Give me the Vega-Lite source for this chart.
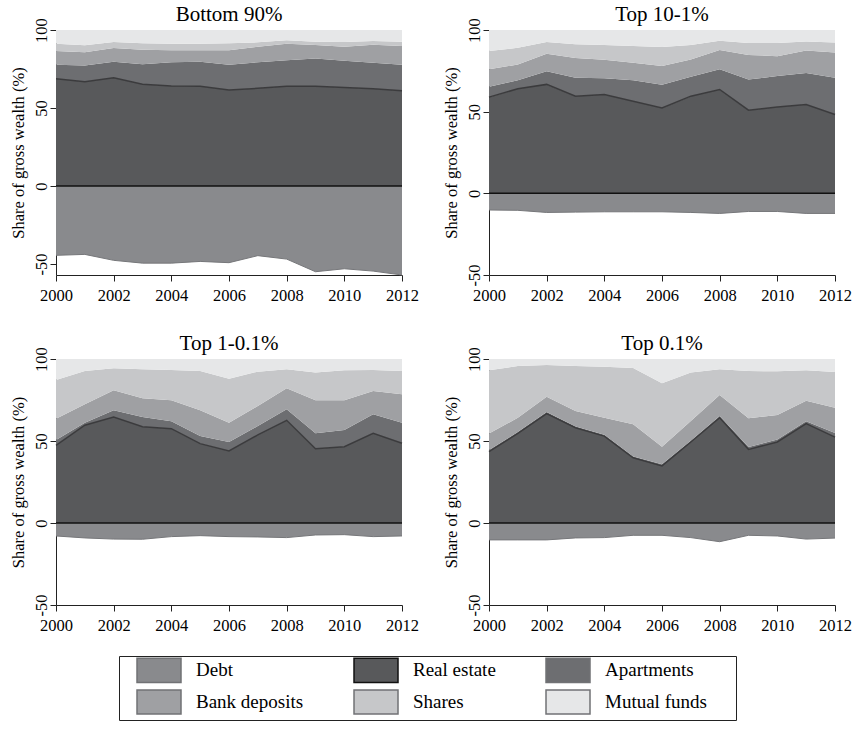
{
  "$schema": "https://vega.github.io/schema/vega-lite/v6.json",
  "background": "white",
  "padding": {"left": 10, "top": 3, "right": 5, "bottom": 5},
  "config": {
    "view": {"stroke": null},
    "font": "Liberation Serif",
    "title": {"font": "Liberation Serif", "fontSize": 21, "fontWeight": "normal", "color": "black", "offset": -7},
    "axis": {
      "domainColor": "#222", "tickColor": "#222", "tickSize": 6, "grid": false, "labelFlush": false,
      "labelFont": "Liberation Serif", "labelFontSize": 16.5, "labelColor": "black",
      "titleFont": "Liberation Serif", "titleFontSize": 16.5, "titleFontWeight": "normal", "titleColor": "black"
    },
    "legend": {
      "orient": "none", "legendX": 63, "legendY": 626,
      "columns": 3, "gridAlign": "each", "columnPadding": 34, "rowPadding": 0,
      "padding": 2, "labelFont": "Liberation Serif", "labelFontSize": 19, "labelColor": "black",
      "labelOffset": 51, "strokeColor": "#222", "fillColor": "white",
      "title": "\u2003", "titleOrient": "right", "titlePadding": 27, "titleFontSize": 19,
      "symbolType": "M0.364,-1.1L4.364,-1.1L4.364,1.1L0.364,1.1Z", "symbolSize": 484,
      "symbolStrokeWidth": 1.5, "symbolStrokeColor": "#707174", "symbolOpacity": 1
    }
  },
  "data": {"values": [
    {"g": "Bottom 90%", "year": 2000, "Debt": -44.4, "Real estate": 68.8, "Apartments": 9.0, "Bank deposits": 8.7, "Shares": 4.7, "Mutual funds": 8.8},
    {"g": "Bottom 90%", "year": 2001, "Debt": -43.8, "Real estate": 66.9, "Apartments": 10.4, "Bank deposits": 8.4, "Shares": 4.5, "Mutual funds": 9.8},
    {"g": "Bottom 90%", "year": 2002, "Debt": -47.6, "Real estate": 69.4, "Apartments": 10.3, "Bank deposits": 8.8, "Shares": 3.8, "Mutual funds": 7.7},
    {"g": "Bottom 90%", "year": 2003, "Debt": -49.4, "Real estate": 65.2, "Apartments": 12.8, "Bank deposits": 9.4, "Shares": 4.1, "Mutual funds": 8.5},
    {"g": "Bottom 90%", "year": 2004, "Debt": -49.4, "Real estate": 64.1, "Apartments": 15.2, "Bank deposits": 7.7, "Shares": 4.2, "Mutual funds": 8.8},
    {"g": "Bottom 90%", "year": 2005, "Debt": -48.3, "Real estate": 63.9, "Apartments": 15.8, "Bank deposits": 7.3, "Shares": 4.2, "Mutual funds": 8.8},
    {"g": "Bottom 90%", "year": 2006, "Debt": -49.1, "Real estate": 61.5, "Apartments": 16.3, "Bank deposits": 9.2, "Shares": 4.5, "Mutual funds": 8.5},
    {"g": "Bottom 90%", "year": 2007, "Debt": -44.6, "Real estate": 62.6, "Apartments": 16.7, "Bank deposits": 10.0, "Shares": 2.8, "Mutual funds": 7.9},
    {"g": "Bottom 90%", "year": 2008, "Debt": -46.8, "Real estate": 63.9, "Apartments": 16.7, "Bank deposits": 10.6, "Shares": 2.2, "Mutual funds": 6.6},
    {"g": "Bottom 90%", "year": 2009, "Debt": -54.9, "Real estate": 63.9, "Apartments": 17.9, "Bank deposits": 8.6, "Shares": 2.1, "Mutual funds": 7.5},
    {"g": "Bottom 90%", "year": 2010, "Debt": -53.0, "Real estate": 63.2, "Apartments": 17.1, "Bank deposits": 9.0, "Shares": 3.0, "Mutual funds": 7.7},
    {"g": "Bottom 90%", "year": 2011, "Debt": -54.5, "Real estate": 62.4, "Apartments": 16.6, "Bank deposits": 11.6, "Shares": 2.4, "Mutual funds": 7.0},
    {"g": "Bottom 90%", "year": 2012, "Debt": -57.0, "Real estate": 61.1, "Apartments": 16.7, "Bank deposits": 11.9, "Shares": 2.8, "Mutual funds": 7.5},

    {"g": "Top 10-1%", "year": 2000, "Debt": -10.2, "Real estate": 58.9, "Apartments": 6.3, "Bank deposits": 10.7, "Shares": 11.2, "Mutual funds": 12.9},
    {"g": "Top 10-1%", "year": 2001, "Debt": -10.4, "Real estate": 64.0, "Apartments": 5.3, "Bank deposits": 9.6, "Shares": 10.2, "Mutual funds": 10.9},
    {"g": "Top 10-1%", "year": 2002, "Debt": -11.7, "Real estate": 66.7, "Apartments": 8.1, "Bank deposits": 10.7, "Shares": 7.1, "Mutual funds": 7.4},
    {"g": "Top 10-1%", "year": 2003, "Debt": -11.5, "Real estate": 59.5, "Apartments": 11.3, "Bank deposits": 12.0, "Shares": 8.4, "Mutual funds": 8.8},
    {"g": "Top 10-1%", "year": 2004, "Debt": -11.3, "Real estate": 60.5, "Apartments": 9.9, "Bank deposits": 11.4, "Shares": 9.0, "Mutual funds": 9.2},
    {"g": "Top 10-1%", "year": 2005, "Debt": -11.3, "Real estate": 56.4, "Apartments": 12.9, "Bank deposits": 10.6, "Shares": 10.3, "Mutual funds": 9.8},
    {"g": "Top 10-1%", "year": 2006, "Debt": -11.3, "Real estate": 52.3, "Apartments": 14.2, "Bank deposits": 11.4, "Shares": 11.7, "Mutual funds": 10.4},
    {"g": "Top 10-1%", "year": 2007, "Debt": -11.7, "Real estate": 59.5, "Apartments": 11.9, "Bank deposits": 10.6, "Shares": 8.8, "Mutual funds": 9.2},
    {"g": "Top 10-1%", "year": 2008, "Debt": -12.3, "Real estate": 63.6, "Apartments": 12.3, "Bank deposits": 11.8, "Shares": 5.7, "Mutual funds": 6.6},
    {"g": "Top 10-1%", "year": 2009, "Debt": -11.1, "Real estate": 50.9, "Apartments": 18.8, "Bank deposits": 15.0, "Shares": 7.3, "Mutual funds": 8.0},
    {"g": "Top 10-1%", "year": 2010, "Debt": -11.1, "Real estate": 52.8, "Apartments": 19.0, "Bank deposits": 12.2, "Shares": 8.0, "Mutual funds": 8.0},
    {"g": "Top 10-1%", "year": 2011, "Debt": -12.3, "Real estate": 54.4, "Apartments": 19.2, "Bank deposits": 13.9, "Shares": 5.5, "Mutual funds": 7.0},
    {"g": "Top 10-1%", "year": 2012, "Debt": -12.3, "Real estate": 48.3, "Apartments": 22.5, "Bank deposits": 15.5, "Shares": 6.1, "Mutual funds": 7.6},

    {"g": "Top 1-0.1%", "year": 2000, "Debt": -7.9, "Real estate": 47.4, "Apartments": 3.2, "Bank deposits": 13.0, "Shares": 23.6, "Mutual funds": 12.8},
    {"g": "Top 1-0.1%", "year": 2001, "Debt": -9.1, "Real estate": 59.6, "Apartments": 1.6, "Bank deposits": 11.2, "Shares": 20.3, "Mutual funds": 7.3},
    {"g": "Top 1-0.1%", "year": 2002, "Debt": -9.8, "Real estate": 64.6, "Apartments": 4.1, "Bank deposits": 12.2, "Shares": 13.4, "Mutual funds": 5.7},
    {"g": "Top 1-0.1%", "year": 2003, "Debt": -9.9, "Real estate": 58.7, "Apartments": 5.9, "Bank deposits": 11.4, "Shares": 17.7, "Mutual funds": 6.3},
    {"g": "Top 1-0.1%", "year": 2004, "Debt": -8.3, "Real estate": 57.5, "Apartments": 4.5, "Bank deposits": 12.8, "Shares": 18.5, "Mutual funds": 6.7},
    {"g": "Top 1-0.1%", "year": 2005, "Debt": -7.7, "Real estate": 48.4, "Apartments": 4.6, "Bank deposits": 15.7, "Shares": 24.0, "Mutual funds": 7.3},
    {"g": "Top 1-0.1%", "year": 2006, "Debt": -8.3, "Real estate": 43.9, "Apartments": 5.5, "Bank deposits": 11.8, "Shares": 26.8, "Mutual funds": 12.0},
    {"g": "Top 1-0.1%", "year": 2007, "Debt": -8.5, "Real estate": 53.7, "Apartments": 5.4, "Bank deposits": 12.2, "Shares": 21.0, "Mutual funds": 7.7},
    {"g": "Top 1-0.1%", "year": 2008, "Debt": -8.9, "Real estate": 62.6, "Apartments": 6.7, "Bank deposits": 12.8, "Shares": 11.6, "Mutual funds": 6.3},
    {"g": "Top 1-0.1%", "year": 2009, "Debt": -7.3, "Real estate": 45.3, "Apartments": 9.4, "Bank deposits": 20.1, "Shares": 16.9, "Mutual funds": 8.3},
    {"g": "Top 1-0.1%", "year": 2010, "Debt": -7.1, "Real estate": 46.5, "Apartments": 10.2, "Bank deposits": 18.1, "Shares": 18.3, "Mutual funds": 6.9},
    {"g": "Top 1-0.1%", "year": 2011, "Debt": -8.3, "Real estate": 54.7, "Apartments": 11.6, "Bank deposits": 14.2, "Shares": 12.8, "Mutual funds": 6.7},
    {"g": "Top 1-0.1%", "year": 2012, "Debt": -7.9, "Real estate": 48.6, "Apartments": 12.6, "Bank deposits": 17.3, "Shares": 14.2, "Mutual funds": 7.3},

    {"g": "Top 0.1%", "year": 2000, "Debt": -10.3, "Real estate": 43.5, "Apartments": 1.0, "Bank deposits": 10.0, "Shares": 38.6, "Mutual funds": 6.9},
    {"g": "Top 0.1%", "year": 2001, "Debt": -10.3, "Real estate": 54.7, "Apartments": 0.8, "Bank deposits": 8.7, "Shares": 31.5, "Mutual funds": 4.3},
    {"g": "Top 0.1%", "year": 2002, "Debt": -10.3, "Real estate": 66.7, "Apartments": 1.0, "Bank deposits": 9.3, "Shares": 19.3, "Mutual funds": 3.7},
    {"g": "Top 0.1%", "year": 2003, "Debt": -9.1, "Real estate": 58.1, "Apartments": 0.8, "Bank deposits": 9.4, "Shares": 27.4, "Mutual funds": 4.3},
    {"g": "Top 0.1%", "year": 2004, "Debt": -8.9, "Real estate": 53.0, "Apartments": 0.8, "Bank deposits": 10.4, "Shares": 31.1, "Mutual funds": 4.7},
    {"g": "Top 0.1%", "year": 2005, "Debt": -7.5, "Real estate": 39.8, "Apartments": 0.8, "Bank deposits": 19.6, "Shares": 34.3, "Mutual funds": 5.5},
    {"g": "Top 0.1%", "year": 2006, "Debt": -7.5, "Real estate": 34.8, "Apartments": 1.0, "Bank deposits": 10.7, "Shares": 38.7, "Mutual funds": 14.8},
    {"g": "Top 0.1%", "year": 2007, "Debt": -8.9, "Real estate": 49.4, "Apartments": 0.8, "Bank deposits": 12.0, "Shares": 29.5, "Mutual funds": 8.3},
    {"g": "Top 0.1%", "year": 2008, "Debt": -11.4, "Real estate": 64.2, "Apartments": 1.0, "Bank deposits": 12.8, "Shares": 15.7, "Mutual funds": 6.3},
    {"g": "Top 0.1%", "year": 2009, "Debt": -7.5, "Real estate": 44.9, "Apartments": 1.5, "Bank deposits": 17.4, "Shares": 28.9, "Mutual funds": 7.3},
    {"g": "Top 0.1%", "year": 2010, "Debt": -7.9, "Real estate": 49.4, "Apartments": 1.5, "Bank deposits": 15.0, "Shares": 26.6, "Mutual funds": 7.5},
    {"g": "Top 0.1%", "year": 2011, "Debt": -9.8, "Real estate": 60.6, "Apartments": 1.5, "Bank deposits": 12.5, "Shares": 18.5, "Mutual funds": 6.9},
    {"g": "Top 0.1%", "year": 2012, "Debt": -9.2, "Real estate": 52.4, "Apartments": 2.5, "Bank deposits": 15.4, "Shares": 21.8, "Mutual funds": 7.9}
  ]},
  "transform": [
    {"fold": ["Debt", "Real estate", "Apartments", "Bank deposits", "Shares", "Mutual funds"], "as": ["cat", "v"]},
    {"calculate": "indexof(['Real estate','Apartments','Bank deposits','Shares','Mutual funds','Debt'], datum.cat)", "as": "ord"}
  ],
  "columns": 2,
  "spacing": {"column": 24, "row": 28},
  "resolve": {"scale": {"x": "independent", "y": "independent", "color": "shared"}},
  "concat": [
    {
      "title": {"text": "Bottom 90%", "fontSize": 21, "fontWeight": "normal", "font": "Liberation Serif"}, "width": 346, "height": 245,
      "transform": [{"filter": "datum.g == 'Bottom 90%'"}],
      "layer": [
        {"mark": {"type": "area", "interpolate": "linear"},
         "encoding": {
           "x": {"field": "year", "type": "quantitative", "scale": {"domain": [2000, 2012], "nice": false, "zero": false}, "axis": {"values": [2000, 2002, 2004, 2006, 2008, 2010, 2012], "format": "d", "title": null, "labelPadding": 6, "labelFlush": false}},
           "y": {"field": "v", "type": "quantitative", "stack": "zero", "scale": {"domain": [-57, 100], "nice": false, "zero": false}, "axis": {"values": [-50, 0, 50, 100], "labelExpr": "'' + datum.value", "labelFlush": false, "title": "Share of gross wealth (%)", "labelAngle": 270, "labelAlign": "center", "labelBaseline": "bottom", "labelPadding": 1, "titlePadding": 7}},
           "color": {"field": "cat", "type": "nominal", "scale": {"domain": ["Debt", "Bank deposits", "Real estate", "Shares", "Apartments", "Mutual funds"], "range": ["#898a8d", "#9fa0a3", "#58595b", "#c6c7c9", "#6d6e71", "#e6e7e8"]},
             "legend": {"title": "\u2003", "encode": {"symbols": {"update": {"stroke": {"signal": "datum.label === 'Real estate' ? '#111111' : '#717275'"}}}}}},
           "order": {"field": "ord", "type": "quantitative"}
         }},
        {"transform": [{"filter": "datum.cat == 'Real estate'"}], "mark": {"type": "line", "color": "#3b3b3d", "strokeWidth": 1.5}, "encoding": {"x": {"field": "year", "type": "quantitative"}, "y": {"field": "v", "type": "quantitative"}}},
        {"transform": [{"filter": "datum.cat == 'Debt'"}], "mark": {"type": "line", "color": "#76777a", "strokeWidth": 1}, "encoding": {"x": {"field": "year", "type": "quantitative"}, "y": {"field": "v", "type": "quantitative"}}},
        {"data": {"values": [{}]}, "mark": {"type": "rule", "color": "#111", "strokeWidth": 1.5}, "encoding": {"y": {"datum": 0}}}
      ]
    },
    {
      "title": {"text": "Top 10-1%", "fontSize": 21, "fontWeight": "normal", "font": "Liberation Serif"}, "width": 346, "height": 245,
      "transform": [{"filter": "datum.g == 'Top 10-1%'"}],
      "layer": [
        {"mark": {"type": "area", "interpolate": "linear"},
         "encoding": {
           "x": {"field": "year", "type": "quantitative", "scale": {"domain": [2000, 2012], "nice": false, "zero": false}, "axis": {"values": [2000, 2002, 2004, 2006, 2008, 2010, 2012], "format": "d", "title": null, "labelPadding": 6, "labelFlush": false}},
           "y": {"field": "v", "type": "quantitative", "stack": "zero", "scale": {"domain": [-50, 100], "nice": false, "zero": false}, "axis": {"values": [-50, 0, 50, 100], "labelExpr": "'' + datum.value", "labelFlush": false, "title": "Share of gross wealth (%)", "labelAngle": 270, "labelAlign": "center", "labelBaseline": "bottom", "labelPadding": 1, "titlePadding": 7}},
           "color": {"field": "cat", "type": "nominal", "scale": {"domain": ["Debt", "Bank deposits", "Real estate", "Shares", "Apartments", "Mutual funds"], "range": ["#898a8d", "#9fa0a3", "#58595b", "#c6c7c9", "#6d6e71", "#e6e7e8"]},
             "legend": {"title": "\u2003", "encode": {"symbols": {"update": {"stroke": {"signal": "datum.label === 'Real estate' ? '#111111' : '#717275'"}}}}}},
           "order": {"field": "ord", "type": "quantitative"}
         }},
        {"transform": [{"filter": "datum.cat == 'Real estate'"}], "mark": {"type": "line", "color": "#3b3b3d", "strokeWidth": 1.5}, "encoding": {"x": {"field": "year", "type": "quantitative"}, "y": {"field": "v", "type": "quantitative"}}},
        {"transform": [{"filter": "datum.cat == 'Debt'"}], "mark": {"type": "line", "color": "#76777a", "strokeWidth": 1}, "encoding": {"x": {"field": "year", "type": "quantitative"}, "y": {"field": "v", "type": "quantitative"}}},
        {"data": {"values": [{}]}, "mark": {"type": "rule", "color": "#111", "strokeWidth": 1.5}, "encoding": {"y": {"datum": 0}}}
      ]
    },
    {
      "title": {"text": "Top 1-0.1%", "fontSize": 21, "fontWeight": "normal", "font": "Liberation Serif"}, "width": 346, "height": 246,
      "transform": [{"filter": "datum.g == 'Top 1-0.1%'"}],
      "layer": [
        {"mark": {"type": "area", "interpolate": "linear"},
         "encoding": {
           "x": {"field": "year", "type": "quantitative", "scale": {"domain": [2000, 2012], "nice": false, "zero": false}, "axis": {"values": [2000, 2002, 2004, 2006, 2008, 2010, 2012], "format": "d", "title": null, "labelPadding": 6, "labelFlush": false}},
           "y": {"field": "v", "type": "quantitative", "stack": "zero", "scale": {"domain": [-50, 100], "nice": false, "zero": false}, "axis": {"values": [-50, 0, 50, 100], "labelExpr": "'' + datum.value", "labelFlush": false, "title": "Share of gross wealth (%)", "labelAngle": 270, "labelAlign": "center", "labelBaseline": "bottom", "labelPadding": 1, "titlePadding": 7}},
           "color": {"field": "cat", "type": "nominal", "scale": {"domain": ["Debt", "Bank deposits", "Real estate", "Shares", "Apartments", "Mutual funds"], "range": ["#898a8d", "#9fa0a3", "#58595b", "#c6c7c9", "#6d6e71", "#e6e7e8"]},
             "legend": {"title": "\u2003", "encode": {"symbols": {"update": {"stroke": {"signal": "datum.label === 'Real estate' ? '#111111' : '#717275'"}}}}}},
           "order": {"field": "ord", "type": "quantitative"}
         }},
        {"transform": [{"filter": "datum.cat == 'Real estate'"}], "mark": {"type": "line", "color": "#3b3b3d", "strokeWidth": 1.5}, "encoding": {"x": {"field": "year", "type": "quantitative"}, "y": {"field": "v", "type": "quantitative"}}},
        {"transform": [{"filter": "datum.cat == 'Debt'"}], "mark": {"type": "line", "color": "#76777a", "strokeWidth": 1}, "encoding": {"x": {"field": "year", "type": "quantitative"}, "y": {"field": "v", "type": "quantitative"}}},
        {"data": {"values": [{}]}, "mark": {"type": "rule", "color": "#111", "strokeWidth": 1.5}, "encoding": {"y": {"datum": 0}}}
      ]
    },
    {
      "title": {"text": "Top 0.1%", "fontSize": 21, "fontWeight": "normal", "font": "Liberation Serif"}, "width": 346, "height": 246,
      "transform": [{"filter": "datum.g == 'Top 0.1%'"}],
      "layer": [
        {"mark": {"type": "area", "interpolate": "linear"},
         "encoding": {
           "x": {"field": "year", "type": "quantitative", "scale": {"domain": [2000, 2012], "nice": false, "zero": false}, "axis": {"values": [2000, 2002, 2004, 2006, 2008, 2010, 2012], "format": "d", "title": null, "labelPadding": 6, "labelFlush": false}},
           "y": {"field": "v", "type": "quantitative", "stack": "zero", "scale": {"domain": [-50, 100], "nice": false, "zero": false}, "axis": {"values": [-50, 0, 50, 100], "labelExpr": "'' + datum.value", "labelFlush": false, "title": "Share of gross wealth (%)", "labelAngle": 270, "labelAlign": "center", "labelBaseline": "bottom", "labelPadding": 1, "titlePadding": 7}},
           "color": {"field": "cat", "type": "nominal", "scale": {"domain": ["Debt", "Bank deposits", "Real estate", "Shares", "Apartments", "Mutual funds"], "range": ["#898a8d", "#9fa0a3", "#58595b", "#c6c7c9", "#6d6e71", "#e6e7e8"]},
             "legend": {"title": "\u2003", "encode": {"symbols": {"update": {"stroke": {"signal": "datum.label === 'Real estate' ? '#111111' : '#717275'"}}}}}},
           "order": {"field": "ord", "type": "quantitative"}
         }},
        {"transform": [{"filter": "datum.cat == 'Real estate'"}], "mark": {"type": "line", "color": "#3b3b3d", "strokeWidth": 1.5}, "encoding": {"x": {"field": "year", "type": "quantitative"}, "y": {"field": "v", "type": "quantitative"}}},
        {"transform": [{"filter": "datum.cat == 'Debt'"}], "mark": {"type": "line", "color": "#76777a", "strokeWidth": 1}, "encoding": {"x": {"field": "year", "type": "quantitative"}, "y": {"field": "v", "type": "quantitative"}}},
        {"data": {"values": [{}]}, "mark": {"type": "rule", "color": "#111", "strokeWidth": 1.5}, "encoding": {"y": {"datum": 0}}}
      ]
    }
  ]
}
